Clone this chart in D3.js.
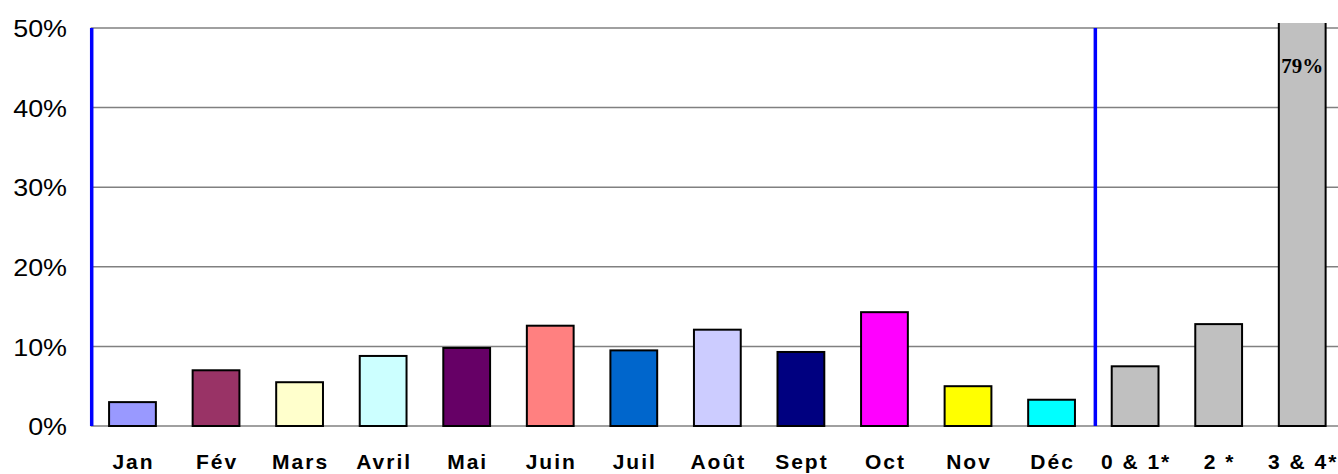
<!DOCTYPE html>
<html><head><meta charset="utf-8">
<script src="https://cdn.jsdelivr.net/npm/d3@7"></script>
<style>body{margin:0;background:#fff;overflow:hidden}</style>
</head><body>
<svg id="c" width="1338" height="474"></svg>
<script>
const categories = ["Jan","Fév","Mars","Avril","Mai","Juin","Juil","Août","Sept","Oct","Nov","Déc","0 & 1*","2 *","3 & 4*"];
const values = [3.0, 7.0, 5.5, 8.8, 9.8, 12.6, 9.5, 12.1, 9.3, 14.3, 5.0, 3.3, 7.5, 12.8, 79];
const colors = ["#9999FF","#993366","#FFFFCC","#CCFFFF","#660066","#FF8080","#0066CC","#CCCCFF","#000080","#FF00FF","#FFFF00","#00FFFF","#C0C0C0","#C0C0C0","#C0C0C0"];
const yTicks = [0,10,20,30,40,50];
const dataLabels = [{cat:"3 & 4*", text:"79%"}];
const separators = [0, 12]; // separator before category index

const svg = d3.select("#c");
const pLeft = 90.7, pRight = 1344, pTop = 28, pBottom = 426;
const x = d3.scaleBand().domain(categories).range([pLeft, pRight]).paddingInner(0.44).paddingOuter(0.22);
const y = d3.scaleLinear().domain([0,50]).range([pBottom, pTop]);

svg.append("defs").append("clipPath").attr("id","clip")
  .append("rect").attr("x",0).attr("y",23).attr("width",1338).attr("height",pBottom-23+2);

// gridlines
svg.append("g").selectAll("line").data(yTicks).join("line")
  .attr("x1",pLeft).attr("x2",1338).attr("y1",d=>y(d)).attr("y2",d=>y(d))
  .attr("stroke","#808080").attr("stroke-width",1.5);

// y axis labels
const yAxis = d3.axisLeft(y).tickValues(yTicks).tickFormat(d=>d+"%").tickSize(0).tickPadding(0);
const ga = svg.append("g").attr("transform","translate(67,0)").call(yAxis);
ga.select(".domain").remove();
ga.selectAll("text").attr("font-family","Liberation Sans, Arial, sans-serif").attr("font-size",24)
  .attr("fill","#000").attr("dy","0.36em")
  .each(function(){
    const w = this.getComputedTextLength();
    d3.select(this).attr("textLength", w*1.12).attr("lengthAdjust","spacingAndGlyphs");
  });

// bars
svg.append("g").attr("clip-path","url(#clip)").selectAll("rect").data(categories).join("rect")
  .attr("x",d=>x(d)).attr("width",x.bandwidth())
  .attr("y",(d,i)=>y(values[i])).attr("height",(d,i)=>pBottom-y(values[i]))
  .attr("fill",(d,i)=>colors[i]).attr("stroke","#000").attr("stroke-width",2);

// separators
const step = x.step();
svg.append("g").selectAll("line").data(separators).join("line")
  .attr("x1",d=>x(categories[d]) - (step - x.bandwidth())/2 + (d===0?1:2))
  .attr("x2",d=>x(categories[d]) - (step - x.bandwidth())/2 + (d===0?1:2))
  .attr("y1",pTop).attr("y2",pBottom)
  .attr("stroke","#0000FF").attr("stroke-width",3.5);

// x labels
svg.append("g").selectAll("text").data(categories).join("text")
  .attr("x",d=>x(d)+x.bandwidth()/2 + 1).attr("y",469)
  .attr("text-anchor","middle").attr("font-family","Liberation Sans, Arial, sans-serif")
  .attr("font-weight","bold").attr("font-size",21).attr("letter-spacing","2px").text(d=>d);

// data labels
svg.append("g").selectAll("text").data(dataLabels).join("text")
  .attr("x",d=>x(d.cat)+x.bandwidth()/2).attr("y",73)
  .attr("text-anchor","middle").attr("font-family","Liberation Serif, Times New Roman, serif")
  .attr("font-weight","bold").attr("font-size",21).text(d=>d.text);
</script>
</body></html>
